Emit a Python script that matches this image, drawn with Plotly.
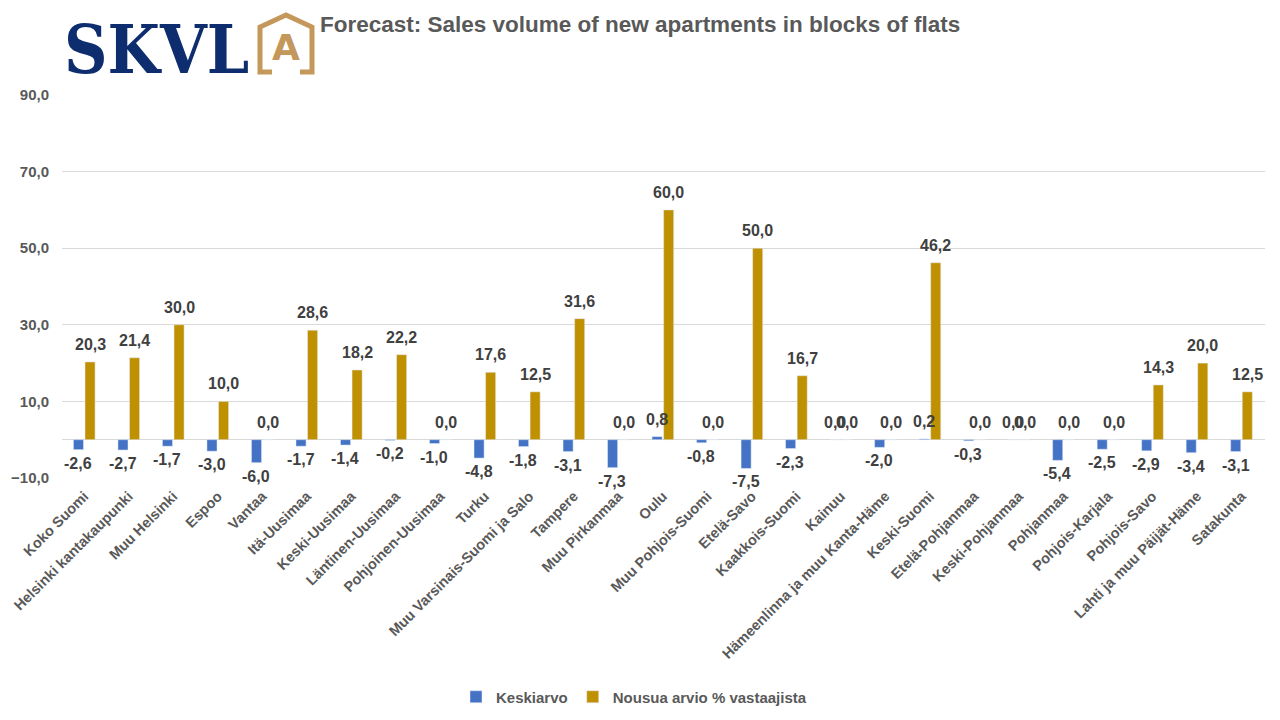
import plotly.graph_objects as go

categories = ["Koko Suomi", "Helsinki kantakaupunki", "Muu Helsinki", "Espoo", "Vantaa",
              "Itä-Uusimaa", "Keski-Uusimaa", "Läntinen-Uusimaa", "Pohjoinen-Uusimaa", "Turku",
              "Muu Varsinais-Suomi ja Salo", "Tampere", "Muu Pirkanmaa", "Oulu",
              "Muu Pohjois-Suomi", "Etelä-Savo", "Kaakkois-Suomi", "Kainuu",
              "Hämeenlinna ja muu Kanta-Häme", "Keski-Suomi", "Etelä-Pohjanmaa",
              "Keski-Pohjanmaa", "Pohjanmaa", "Pohjois-Karjala", "Pohjois-Savo",
              "Lahti ja muu Päijät-Häme", "Satakunta"]

keskiarvo = [-2.6, -2.7, -1.7, -3.0, -6.0, -1.7, -1.4, -0.2, -1.0, -4.8, -1.8, -3.1, -7.3,
             0.8, -0.8, -7.5, -2.3, 0.0, -2.0, 0.2, -0.3, 0.0, -5.4, -2.5, -2.9, -3.4, -3.1]

nousua = [20.3, 21.4, 30.0, 10.0, 0.0, 28.6, 18.2, 22.2, 0.0, 17.6, 12.5, 31.6, 0.0,
          60.0, 0.0, 50.0, 16.7, 0.0, 0.0, 46.2, 0.0, 0.0, 0.0, 0.0, 14.3, 20.0, 12.5]

series_names = ["Keskiarvo", "Nousua arvio % vastaajista"]
title_text = "Forecast: Sales volume of new apartments in blocks of flats"

BLUE = "#4472C4"
GOLD = "#BF9000"
NAVY = "#0E2D6E"
LOGO_GOLD = "#C4975B"
GRAY = "#595959"
DARK = "#404040"
FONT = "Liberation Sans"

OFF = 8  # page body margin
W, H = 1280 - 2 * OFF, 720 - 2 * OFF
# plot area in page pixels
PL, PR, PT, PB = 62, 1265, 95, 478
L, R, T, B = PL - OFF, PR - OFF, PT - OFF, PB - OFF


def px(x):
    return (x - OFF - L) / (R - L)


def py(y):
    return (B - (y - OFF)) / (B - T)


fig = go.Figure()
fig.add_trace(go.Bar(name=series_names[0], x=categories, y=keskiarvo, marker_color=BLUE))
fig.add_trace(go.Bar(name=series_names[1], x=categories, y=nousua, marker_color=GOLD))

# data labels (outside end), placed on each bar of the group
label_font = dict(family=FONT, size=16, color=DARK, weight="bold")


def fmt(v):
    return f"{v:.1f}".replace(".", ",")


for values, xs in ((keskiarvo, -6), (nousua, 6)):
    for cat, v in zip(categories, values):
        pos = v >= 0
        fig.add_annotation(x=cat, y=v, xref="x", yref="y", text=fmt(v), showarrow=False,
                           xanchor="center", yanchor="bottom" if pos else "top",
                           xshift=xs, yshift=7 if pos else -3, font=label_font)

fig.update_layout(
    width=W, height=H,
    margin=dict(l=L, r=W - R, t=T, b=H - B, autoexpand=False),
    paper_bgcolor="white", plot_bgcolor="white",
    separators=", ",
    barmode="group", bargap=0.48, bargroupgap=0.13,
    font=dict(family=FONT, color=GRAY),
    showlegend=True,
    legend=dict(orientation="h", x=px(456), xanchor="left", y=py(697), yanchor="middle",
                font=dict(family=FONT, size=15, color=GRAY, weight="bold"),
                traceorder="normal"),
    xaxis=dict(tickangle=-45, tickfont=dict(family=FONT, size=14.5, color=GRAY, weight="bold"),
               showgrid=False, showline=False, ticks="", ticklabelstandoff=6),
    yaxis=dict(range=[-10, 90], tick0=-10, dtick=20, tickformat=".1f",
               tickfont=dict(family=FONT, size=15, color=GRAY, weight="bold"),
               showgrid=True, gridcolor="#D9D9D9", gridwidth=1,
               zeroline=True, zerolinecolor="#D9D9D9", zerolinewidth=1,
               showline=False, ticks="", ticklabelstandoff=12),
)

# Title
fig.add_annotation(text=title_text, xref="paper", yref="paper", x=px(640), y=py(25),
                   xanchor="center", yanchor="middle", showarrow=False,
                   font=dict(family=FONT, size=22.5, color=GRAY, weight="bold"))

# Logo text
fig.add_annotation(text="SKVL", xref="paper", yref="paper", x=px(62), y=py(49),
                   xanchor="left", yanchor="middle", showarrow=False,
                   font=dict(family="DejaVu Serif Condensed", size=67, color=NAVY, weight="bold"))

# Logo house icon
pts = [(272, 72), (260, 72), (260, 27), (286, 15), (312, 27), (312, 72), (300, 72)]
path = "M " + " L ".join(f"{px(x):.5f},{py(y):.5f}" for x, y in pts)
fig.add_shape(type="path", path=path, xref="paper", yref="paper",
              line=dict(color=LOGO_GOLD, width=5), fillcolor="rgba(0,0,0,0)", layer="above")
fig.add_annotation(text="A", xref="paper", yref="paper", x=px(286), y=py(47),
                   xanchor="center", yanchor="middle", showarrow=False,
                   font=dict(family="DejaVu Sans", size=36, color=LOGO_GOLD, weight="bold"))

fig.write_html("out.html")
